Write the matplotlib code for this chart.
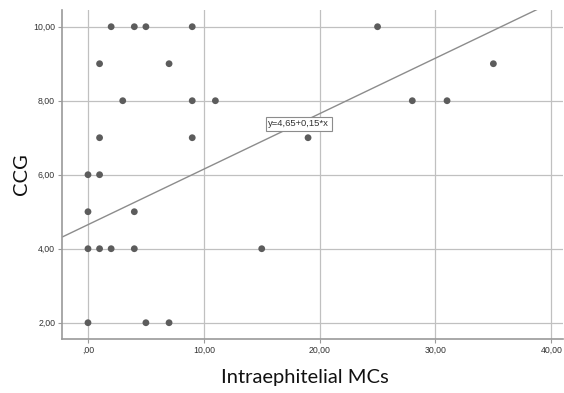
import numpy as np
import matplotlib
matplotlib.use("Agg")
import matplotlib.pyplot as plt

# ─── data ───────────────────────────────────────────────────────────────────
mcs = [2, 4, 5, 9, 25,
       1, 7, 35,
       3, 9, 11, 28, 31,
       1, 9, 19,
       0, 1,
       0, 4,
       0, 1, 2, 4, 15,
       0, 5, 7]
ccg = [10, 10, 10, 10, 10,
       9, 9, 9,
       8, 8, 8, 8, 8,
       7, 7, 7,
       6, 6,
       5, 5,
       4, 4, 4, 4, 4,
       2, 2, 2]

intercept = 4.65
slope = 0.15
fit_label = "y=4,65+0,15*x"

x_ticks = [0, 10, 20, 30, 40]
x_tick_labels = [",00", "10,00", "20,00", "30,00", "40,00"]
y_ticks = [2, 4, 6, 8, 10]
y_tick_labels = ["2,00", "4,00", "6,00", "8,00", "10,00"]


def main():
    fig = plt.figure(figsize=(5.64, 3.93), dpi=100)
    ax = fig.add_axes([0.110, 0.1374, 0.888, 0.837])

    xmin, xmax = -2.24, 41.0
    ymin, ymax = 1.56, 10.45

    # grid + spines in SPSS grey
    ax.grid(True, color="#c0c0c0", linewidth=0.9)
    ax.set_axisbelow(True)
    for side in ("top", "right"):
        ax.spines[side].set_visible(False)
    for side in ("left", "bottom"):
        ax.spines[side].set_color("#9a9a9a")
        ax.spines[side].set_linewidth(1.2)

    # fit line
    fx = np.array([xmin, 39.1])
    ax.plot(fx, intercept + slope * fx, color="#8c8c8c", linewidth=1.0,
            solid_capstyle="butt", zorder=2)

    # points
    ax.scatter(mcs, ccg, s=24, color="#5c5c5c", edgecolors="none", zorder=3)

    # equation box
    bx = 18.2
    ax.text(bx, intercept + slope * bx, fit_label, ha="center", va="center",
            fontsize=6.8, family="Liberation Sans", color="#333333", zorder=4,
            bbox=dict(boxstyle="square,pad=0.25", fc="white", ec="#8c8c8c",
                      lw=0.8))

    ax.set_xlim(xmin, xmax)
    ax.set_ylim(ymin, ymax)
    ax.set_xticks(x_ticks)
    ax.set_xticklabels(x_tick_labels)
    ax.set_yticks(y_ticks)
    ax.set_yticklabels(y_tick_labels)
    ax.tick_params(length=3, width=0.8, color="#9a9a9a", labelsize=6.3,
                   labelcolor="#333333", pad=2)
    for lab in ax.get_xticklabels() + ax.get_yticklabels():
        lab.set_family("Liberation Sans")

    ax.set_xlabel("Intraephitelial MCs", family="Lato", fontsize=14.5,
                  color="#111111")
    ax.set_ylabel("CCG", family="Lato", fontsize=14.5, color="#111111")
    ax.xaxis.set_label_coords(0.485, -0.092)
    ax.yaxis.set_label_coords(-0.063, 0.5)

    fig.savefig("out.png", dpi=100, facecolor="white")


if __name__ == "__main__":
    main()
